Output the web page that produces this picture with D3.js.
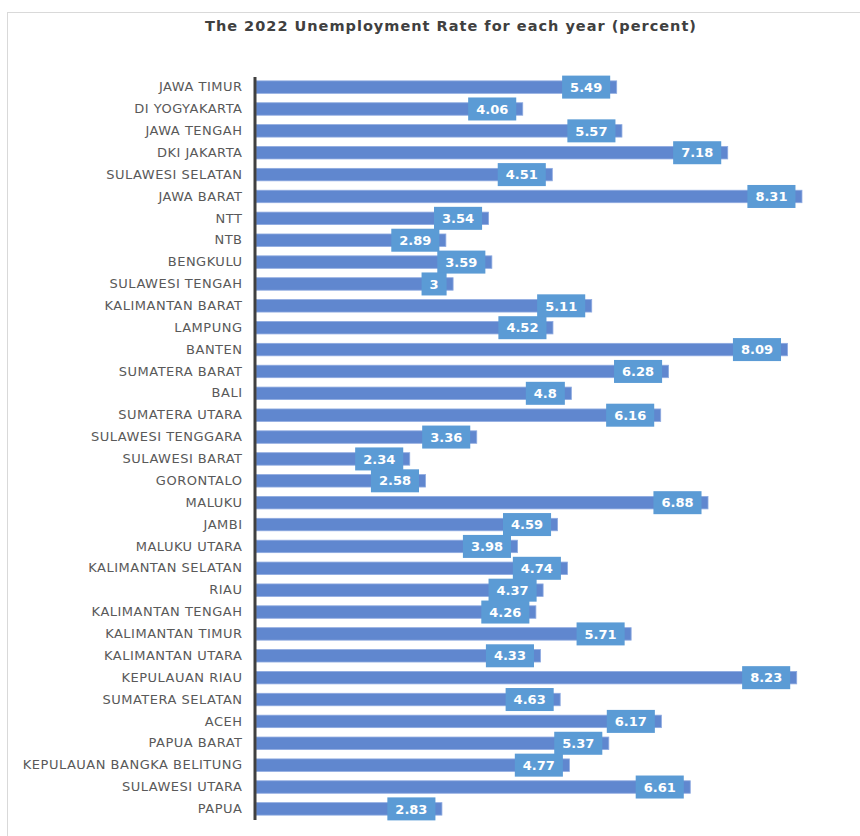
<!DOCTYPE html>
<html>
<head>
<meta charset="utf-8">
<script src="https://cdn.jsdelivr.net/npm/d3@7"></script>
<style>
    body { margin: 0; background: #fff; }
    svg { display: block; }
</style>
</head>
<body>
<svg id="chart" width="860" height="836"></svg>
<script>
const provinces = ['JAWA TIMUR', 'DI YOGYAKARTA', 'JAWA TENGAH', 'DKI JAKARTA', 'SULAWESI SELATAN',
    'JAWA BARAT', 'NTT', 'NTB', 'BENGKULU', 'SULAWESI TENGAH', 'KALIMANTAN BARAT', 'LAMPUNG',
    'BANTEN', 'SUMATERA BARAT', 'BALI', 'SUMATERA UTARA', 'SULAWESI TENGGARA', 'SULAWESI BARAT',
    'GORONTALO', 'MALUKU ', 'JAMBI', 'MALUKU UTARA', 'KALIMANTAN SELATAN', 'RIAU',
    'KALIMANTAN TENGAH', 'KALIMANTAN TIMUR', 'KALIMANTAN UTARA', 'KEPULAUAN RIAU',
    'SUMATERA SELATAN', 'ACEH', 'PAPUA BARAT', 'KEPULAUAN BANGKA BELITUNG', 'SULAWESI UTARA', 'PAPUA'];

const rates = [5.49, 4.06, 5.57, 7.18, 4.51, 8.31, 3.54, 2.89, 3.59, 3, 5.11, 4.52,
    8.09, 6.28, 4.8, 6.16, 3.36, 2.34, 2.58, 6.88, 4.59, 3.98, 4.74, 4.37,
    4.26, 5.71, 4.33, 8.23, 4.63, 6.17, 5.37, 4.77, 6.61, 2.83];

const title = 'The 2022 Unemployment Rate for each year (percent)';

const svg = d3.select('#chart');
const data = provinces.map((p, i) => ({ name: p, value: rates[i] }));

// chart area frame (cut off on the right / bottom like the screenshot)
svg.append('rect')
    .attr('x', 7.5).attr('y', 12.5)
    .attr('width', 900).attr('height', 900)
    .attr('fill', '#fff')
    .attr('stroke', '#d9d9d9');

svg.append('text')
    .attr('x', 451).attr('y', 31)
    .attr('text-anchor', 'middle')
    .attr('font-family', 'DejaVu Sans, Verdana, sans-serif')
    .attr('font-size', 14.5)
    .attr('font-weight', 'bold')
    .attr('letter-spacing', 1)
    .attr('fill', '#404040')
    .text(title);

const x = d3.scaleLinear().domain([0, 9]).range([256, 256 + 9 * 65.7]);
const y = d3.scaleBand().domain(provinces).range([76.5, 819.5]).paddingInner(0.43).paddingOuter(0.2);

// bars
svg.append('g')
    .selectAll('rect')
    .data(data)
    .join('rect')
    .attr('x', x(0))
    .attr('y', d => y(d.name))
    .attr('width', d => x(d.value) - x(0))
    .attr('height', y.bandwidth())
    .attr('fill', '#6087cf')
    .attr('stroke', '#8eaae0')
    .attr('stroke-width', 0.8);

// category axis
const yAxis = svg.append('g')
    .attr('transform', 'translate(254.5,0)')
    .call(d3.axisLeft(y).tickSize(0).tickSizeOuter(0).tickPadding(12));
yAxis.select('.domain').attr('stroke', '#404040').attr('stroke-width', 3);
yAxis.selectAll('text')
    .attr('font-family', 'DejaVu Sans, Verdana, sans-serif')
    .attr('font-size', 13)
    .attr('letter-spacing', 0.5)
    .attr('fill', '#595959');

// data labels in boxes near the bar end
const labels = svg.append('g')
    .selectAll('g')
    .data(data)
    .join('g');

labels.append('rect')
    .attr('fill', '#5b9bd5');

labels.append('text')
    .attr('font-family', 'DejaVu Sans, Verdana, sans-serif')
    .attr('font-size', 13)
    .attr('font-weight', 'bold')
    .attr('fill', '#fff')
    .attr('text-anchor', 'middle')
    .attr('dy', '0.36em')
    .text(d => d.value);

labels.each(function(d) {
    const g = d3.select(this);
    const w = g.select('text').node().getComputedTextLength() + 16;
    const cy = y(d.name) + y.bandwidth() / 2;
    const right = x(d.value) - 6.5;
    g.select('rect')
        .attr('x', right - w).attr('y', cy - 11.5)
        .attr('width', w).attr('height', 23);
    g.select('text')
        .attr('x', right - w / 2).attr('y', cy);
});
</script>
</body>
</html>
